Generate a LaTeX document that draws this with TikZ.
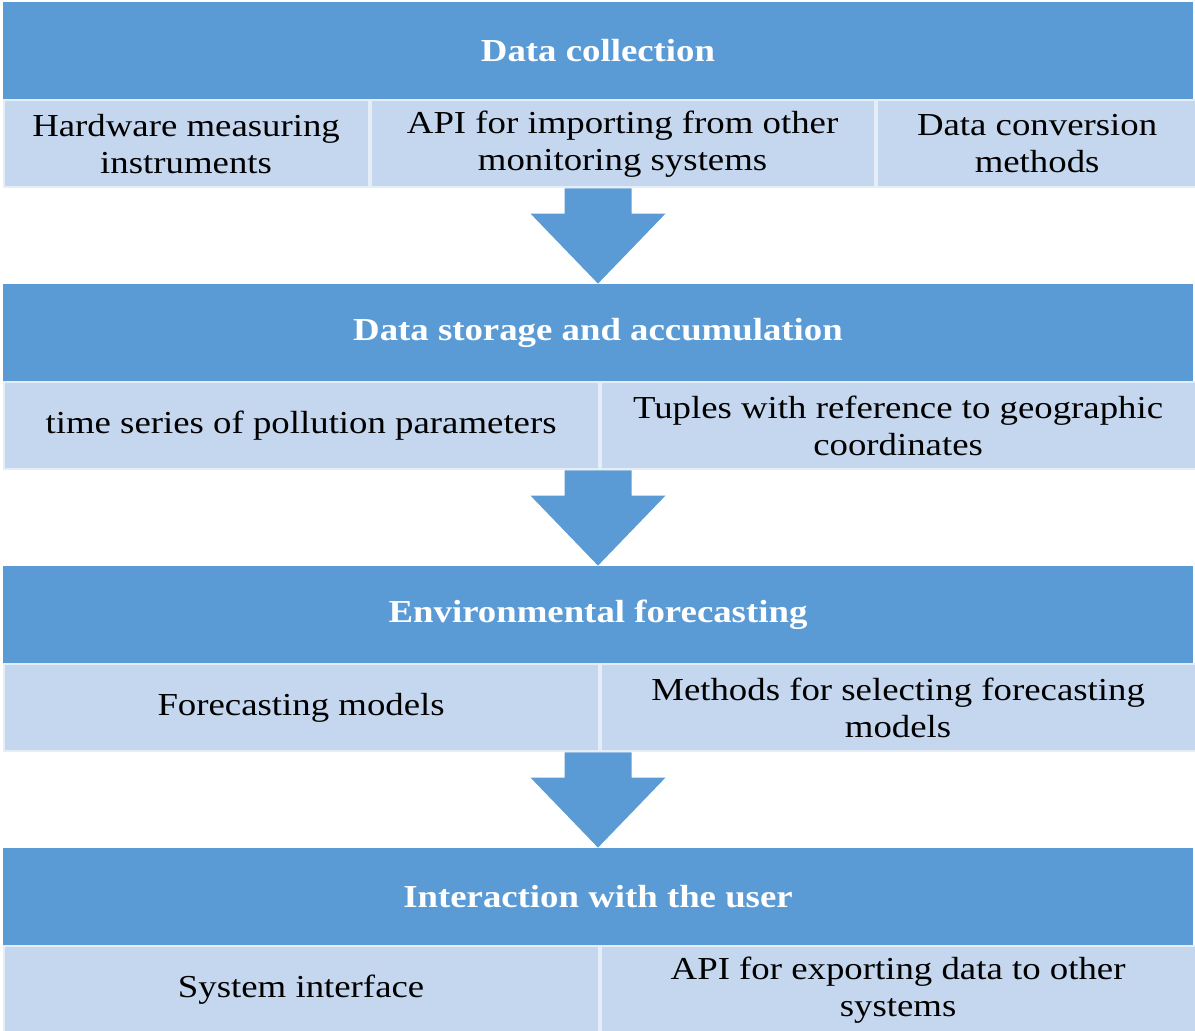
\documentclass[tikz,border=0pt]{standalone}
\usepackage{fontspec}
\setmainfont{Liberation Serif}[FakeStretch=1.15]
\usetikzlibrary{positioning,calc}
\definecolor{headblue}{RGB}{91,155,213}
\definecolor{cellblue}{RGB}{197,215,238}
\begin{document}
\begin{tikzpicture}
[
    x=0.5pt, y=-0.5pt,
    font=\fontsize{16}{18.5}\selectfont,
    header/.style={fill=headblue, text=white, font=\fontsize{16}{18.5}\selectfont\bfseries, minimum width=595pt, minimum height=48.5pt, inner sep=0pt},
    cell/.style={fill=cellblue, draw=white!55!cellblue, line width=1pt, minimum height=43.5pt, inner sep=0pt, align=center},
    flow/.style={fill=headblue}
]
    \useasboundingbox (0,0) rectangle (1195,1030);

    \node [header] (h1) at (598,50.5) {Data collection};
    \node [cell, minimum width=182.5pt, anchor=north west] (c11) at (h1.south west) {Hardware measuring\\instruments};
    \node [cell, minimum width=252pt, right=0pt of c11] (c12) {API for importing from other\\monitoring systems};
    \node [cell, minimum width=160.5pt, right=0pt of c12] (c13) {Data conversion\\methods};

    \node [header] (h2) at (598,332.5) {Data storage and accumulation};
    \node [cell, minimum width=297.5pt, anchor=north west] (c21) at (h2.south west) {time series of pollution parameters};
    \node [cell, minimum width=297.5pt, right=0pt of c21] (c22) {Tuples with reference to geographic\\coordinates};

    \node [header] (h3) at (598,614.5) {Environmental forecasting};
    \node [cell, minimum width=297.5pt, anchor=north west] (c31) at (h3.south west) {Forecasting models};
    \node [cell, minimum width=297.5pt, right=0pt of c31] (c32) {Methods for selecting forecasting\\models};

    \node [header] (h4) at (598,896.5) {Interaction with the user};
    \node [cell, minimum width=297.5pt, anchor=north west] (c41) at (h4.south west) {System interface};
    \node [cell, minimum width=297.5pt, right=0pt of c41] (c42) {API for exporting data to other\\systems};

    % block arrows between the stages
    \foreach \a/\b in {c12/h2, c21/h3, c31/h4}
        \fill [flow] (\b.north) -- ++(-67.5,-70) -- ++(34,0) -- ($(\a.south -| \b.north)+(-33.5,0)$)
            -- ++(67,0) -- ($(\b.north)+(33.5,-70)$) -- ++(34,0) -- cycle;
\end{tikzpicture}
\end{document}
